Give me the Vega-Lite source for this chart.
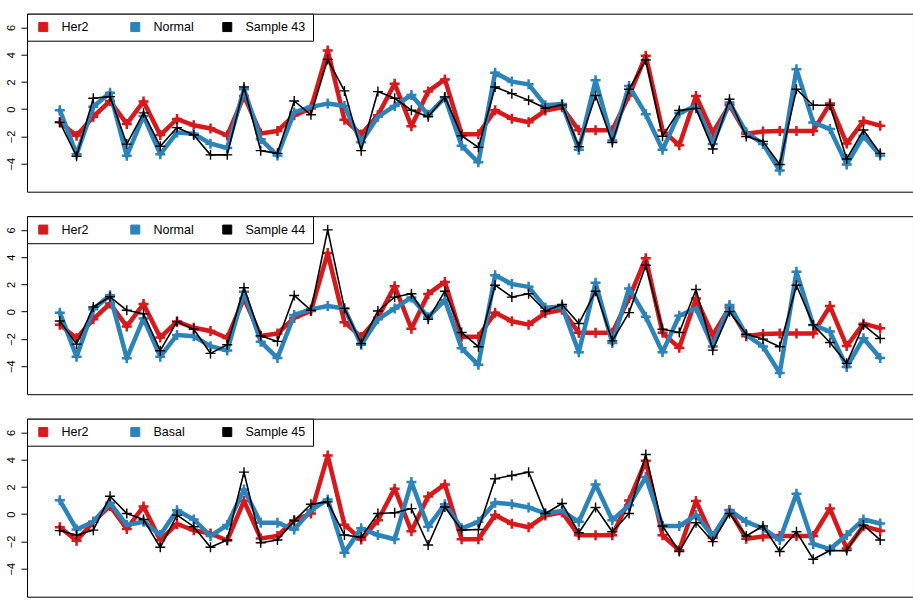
{
"$schema":"https://vega.github.io/schema/vega-lite/v6.json",
"padding":{"left":4,"top":12.7,"right":1,"bottom":12},
"spacing":22.5,
"config":{"view":{"stroke":"black","strokeWidth":1},"font":"Liberation Sans","axis":{"grid":false,"domain":false,"tickSize":6,"tickColor":"black","tickWidth":1,"labelColor":"black","labelFont":"Liberation Sans","labelFontSize":11,"labelAngle":-90,"labelPadding":5,"minExtent":22,"maxExtent":22,"title":null},"legend":{"strokeWidth":1,"title":null,"orient":"top-left","offset":0,"direction":"horizontal","columns":3,"gridAlign":"all","columnPadding":4,"padding":7,"symbolOffset":3,"symbolType":"square","symbolSize":81,"symbolStrokeColor":"black","symbolStrokeWidth":1,"labelFont":"Liberation Sans","labelFontSize":12.5,"labelColor":"black","labelOffset":12,"fillColor":"white","strokeColor":"black","cornerRadius":0}},
"data":{"values":[
{"s":"Her2","i":1,"v":-0.95},{"s":"Her2","i":2,"v":-1.95},{"s":"Her2","i":3,"v":-0.55},{"s":"Her2","i":4,"v":0.6},{"s":"Her2","i":5,"v":-1.08},{"s":"Her2","i":6,"v":0.57},{"s":"Her2","i":7,"v":-1.9},{"s":"Her2","i":8,"v":-0.72},{"s":"Her2","i":9,"v":-1.18},{"s":"Her2","i":10,"v":-1.42},
{"s":"Her2","i":11,"v":-1.93},{"s":"Her2","i":12,"v":0.97},{"s":"Her2","i":13,"v":-1.78},{"s":"Her2","i":14,"v":-1.6},{"s":"Her2","i":15,"v":-0.45},{"s":"Her2","i":16,"v":0.05},{"s":"Her2","i":17,"v":4.3},{"s":"Her2","i":18,"v":-0.77},{"s":"Her2","i":19,"v":-1.85},{"s":"Her2","i":20,"v":-0.45},
{"s":"Her2","i":21,"v":1.87},{"s":"Her2","i":22,"v":-1.25},{"s":"Her2","i":23,"v":1.3},{"s":"Her2","i":24,"v":2.18},{"s":"Her2","i":25,"v":-1.83},{"s":"Her2","i":26,"v":-1.83},{"s":"Her2","i":27,"v":-0.07},{"s":"Her2","i":28,"v":-0.7},{"s":"Her2","i":29,"v":-0.95},{"s":"Her2","i":30,"v":-0.1},
{"s":"Her2","i":31,"v":0.14},{"s":"Her2","i":32,"v":-1.55},{"s":"Her2","i":33,"v":-1.55},{"s":"Her2","i":34,"v":-1.55},{"s":"Her2","i":35,"v":1.0},{"s":"Her2","i":36,"v":3.92},{"s":"Her2","i":37,"v":-1.55},{"s":"Her2","i":38,"v":-2.65},{"s":"Her2","i":39,"v":0.97},{"s":"Her2","i":40,"v":-1.73},
{"s":"Her2","i":41,"v":0.3},{"s":"Her2","i":42,"v":-1.8},{"s":"Her2","i":43,"v":-1.64},{"s":"Her2","i":44,"v":-1.6},{"s":"Her2","i":45,"v":-1.6},{"s":"Her2","i":46,"v":-1.6},{"s":"Her2","i":47,"v":0.41},{"s":"Her2","i":48,"v":-2.52},{"s":"Her2","i":49,"v":-0.88},{"s":"Her2","i":50,"v":-1.21},
{"s":"Normal","i":1,"v":-0.07},{"s":"Normal","i":2,"v":-3.3},{"s":"Normal","i":3,"v":0.18},{"s":"Normal","i":4,"v":1.21},{"s":"Normal","i":5,"v":-3.42},{"s":"Normal","i":6,"v":-0.5},{"s":"Normal","i":7,"v":-3.3},{"s":"Normal","i":8,"v":-1.71},{"s":"Normal","i":9,"v":-1.8},{"s":"Normal","i":10,"v":-2.53},
{"s":"Normal","i":11,"v":-2.85},{"s":"Normal","i":12,"v":1.46},{"s":"Normal","i":13,"v":-2.2},{"s":"Normal","i":14,"v":-3.4},{"s":"Normal","i":15,"v":-0.24},{"s":"Normal","i":16,"v":0.17},{"s":"Normal","i":17,"v":0.41},{"s":"Normal","i":18,"v":0.24},{"s":"Normal","i":19,"v":-2.43},{"s":"Normal","i":20,"v":-0.56},
{"s":"Normal","i":21,"v":0.24},{"s":"Normal","i":22,"v":1.04},{"s":"Normal","i":23,"v":-0.41},{"s":"Normal","i":24,"v":0.85},{"s":"Normal","i":25,"v":-2.68},{"s":"Normal","i":26,"v":-3.9},{"s":"Normal","i":27,"v":2.67},{"s":"Normal","i":28,"v":2.02},{"s":"Normal","i":29,"v":1.82},{"s":"Normal","i":30,"v":0.29},
{"s":"Normal","i":31,"v":0.38},{"s":"Normal","i":32,"v":-2.97},{"s":"Normal","i":33,"v":2.12},{"s":"Normal","i":34,"v":-2.3},{"s":"Normal","i":35,"v":1.7},{"s":"Normal","i":36,"v":-0.37},{"s":"Normal","i":37,"v":-2.97},{"s":"Normal","i":38,"v":-0.3},{"s":"Normal","i":39,"v":0.25},{"s":"Normal","i":40,"v":-2.55},
{"s":"Normal","i":41,"v":0.49},{"s":"Normal","i":42,"v":-1.7},{"s":"Normal","i":43,"v":-2.55},{"s":"Normal","i":44,"v":-4.5},{"s":"Normal","i":45,"v":2.92},{"s":"Normal","i":46,"v":-0.97},{"s":"Normal","i":47,"v":-1.46},{"s":"Normal","i":48,"v":-4.06},{"s":"Normal","i":49,"v":-1.95},{"s":"Normal","i":50,"v":-3.4},
{"s":"Sample 43","i":1,"v":-0.97},{"s":"Sample 43","i":2,"v":-3.45},{"s":"Sample 43","i":3,"v":0.8},{"s":"Sample 43","i":4,"v":0.92},{"s":"Sample 43","i":5,"v":-2.56},{"s":"Sample 43","i":6,"v":-0.27},{"s":"Sample 43","i":7,"v":-2.72},{"s":"Sample 43","i":8,"v":-1.35},{"s":"Sample 43","i":9,"v":-1.89},{"s":"Sample 43","i":10,"v":-3.35},
{"s":"Sample 43","i":11,"v":-3.35},{"s":"Sample 43","i":12,"v":1.63},{"s":"Sample 43","i":13,"v":-3.04},{"s":"Sample 43","i":14,"v":-3.24},{"s":"Sample 43","i":15,"v":0.6},{"s":"Sample 43","i":16,"v":-0.41},{"s":"Sample 43","i":17,"v":3.65},{"s":"Sample 43","i":18,"v":1.34},{"s":"Sample 43","i":19,"v":-3.04},{"s":"Sample 43","i":20,"v":1.29},
{"s":"Sample 43","i":21,"v":0.8},{"s":"Sample 43","i":22,"v":-0.08},{"s":"Sample 43","i":23,"v":-0.56},{"s":"Sample 43","i":24,"v":0.9},{"s":"Sample 43","i":25,"v":-1.95},{"s":"Sample 43","i":26,"v":-2.8},{"s":"Sample 43","i":27,"v":1.63},{"s":"Sample 43","i":28,"v":1.14},{"s":"Sample 43","i":29,"v":0.66},{"s":"Sample 43","i":30,"v":0.07},
{"s":"Sample 43","i":31,"v":0.3},{"s":"Sample 43","i":32,"v":-2.76},{"s":"Sample 43","i":33,"v":1.0},{"s":"Sample 43","i":34,"v":-2.44},{"s":"Sample 43","i":35,"v":1.46},{"s":"Sample 43","i":36,"v":3.6},{"s":"Sample 43","i":37,"v":-1.98},{"s":"Sample 43","i":38,"v":-0.1},{"s":"Sample 43","i":39,"v":0.06},{"s":"Sample 43","i":40,"v":-2.92},
{"s":"Sample 43","i":41,"v":0.73},{"s":"Sample 43","i":42,"v":-2.0},{"s":"Sample 43","i":43,"v":-2.36},{"s":"Sample 43","i":44,"v":-4.06},{"s":"Sample 43","i":45,"v":1.46},{"s":"Sample 43","i":46,"v":0.29},{"s":"Sample 43","i":47,"v":0.29},{"s":"Sample 43","i":48,"v":-3.65},{"s":"Sample 43","i":49,"v":-1.53},{"s":"Sample 43","i":50,"v":-3.24},
{"s":"Sample 44","i":1,"v":-0.68},{"s":"Sample 44","i":2,"v":-2.38},{"s":"Sample 44","i":3,"v":0.34},{"s":"Sample 44","i":4,"v":1.09},{"s":"Sample 44","i":5,"v":0.1},{"s":"Sample 44","i":6,"v":-0.15},{"s":"Sample 44","i":7,"v":-2.86},{"s":"Sample 44","i":8,"v":-0.73},{"s":"Sample 44","i":9,"v":-1.29},{"s":"Sample 44","i":10,"v":-3.06},
{"s":"Sample 44","i":11,"v":-2.43},{"s":"Sample 44","i":12,"v":1.75},{"s":"Sample 44","i":13,"v":-1.77},{"s":"Sample 44","i":14,"v":-2.18},{"s":"Sample 44","i":15,"v":1.19},{"s":"Sample 44","i":16,"v":0.1},{"s":"Sample 44","i":17,"v":6.0},{"s":"Sample 44","i":18,"v":0.24},{"s":"Sample 44","i":19,"v":-2.33},{"s":"Sample 44","i":20,"v":0.05},
{"s":"Sample 44","i":21,"v":1.07},{"s":"Sample 44","i":22,"v":1.31},{"s":"Sample 44","i":23,"v":-0.56},{"s":"Sample 44","i":24,"v":1.5},{"s":"Sample 44","i":25,"v":-1.53},{"s":"Sample 44","i":26,"v":-2.57},{"s":"Sample 44","i":27,"v":1.94},{"s":"Sample 44","i":28,"v":1.07},{"s":"Sample 44","i":29,"v":1.31},{"s":"Sample 44","i":30,"v":0.05},
{"s":"Sample 44","i":31,"v":0.53},{"s":"Sample 44","i":32,"v":-0.87},{"s":"Sample 44","i":33,"v":1.5},{"s":"Sample 44","i":34,"v":-2.14},{"s":"Sample 44","i":35,"v":-0.07},{"s":"Sample 44","i":36,"v":3.4},{"s":"Sample 44","i":37,"v":-1.29},{"s":"Sample 44","i":38,"v":-1.53},{"s":"Sample 44","i":39,"v":1.63},{"s":"Sample 44","i":40,"v":-2.82},
{"s":"Sample 44","i":41,"v":0.0},{"s":"Sample 44","i":42,"v":-1.65},{"s":"Sample 44","i":43,"v":-2.01},{"s":"Sample 44","i":44,"v":-2.57},{"s":"Sample 44","i":45,"v":1.94},{"s":"Sample 44","i":46,"v":-0.97},{"s":"Sample 44","i":47,"v":-2.26},{"s":"Sample 44","i":48,"v":-3.79},{"s":"Sample 44","i":49,"v":-0.97},{"s":"Sample 44","i":50,"v":-1.97},
{"s":"Basal","i":1,"v":1.02},{"s":"Basal","i":2,"v":-1.12},{"s":"Basal","i":3,"v":-0.56},{"s":"Basal","i":4,"v":0.83},{"s":"Basal","i":5,"v":-0.8},{"s":"Basal","i":6,"v":-0.56},{"s":"Basal","i":7,"v":-1.53},{"s":"Basal","i":8,"v":0.29},{"s":"Basal","i":9,"v":-0.39},{"s":"Basal","i":10,"v":-1.6},
{"s":"Basal","i":11,"v":-0.8},{"s":"Basal","i":12,"v":1.8},{"s":"Basal","i":13,"v":-0.63},{"s":"Basal","i":14,"v":-0.63},{"s":"Basal","i":15,"v":-1.12},{"s":"Basal","i":16,"v":0.29},{"s":"Basal","i":17,"v":1.07},{"s":"Basal","i":18,"v":-2.82},{"s":"Basal","i":19,"v":-1.04},{"s":"Basal","i":20,"v":-1.53},
{"s":"Basal","i":21,"v":-1.84},{"s":"Basal","i":22,"v":2.35},{"s":"Basal","i":23,"v":-0.92},{"s":"Basal","i":24,"v":0.73},{"s":"Basal","i":25,"v":-1.04},{"s":"Basal","i":26,"v":-0.56},{"s":"Basal","i":27,"v":0.83},{"s":"Basal","i":28,"v":0.73},{"s":"Basal","i":29,"v":0.49},{"s":"Basal","i":30,"v":0.05},
{"s":"Basal","i":31,"v":0.24},{"s":"Basal","i":32,"v":-0.56},{"s":"Basal","i":33,"v":2.18},{"s":"Basal","i":34,"v":-0.44},{"s":"Basal","i":35,"v":0.66},{"s":"Basal","i":36,"v":2.72},{"s":"Basal","i":37,"v":-0.87},{"s":"Basal","i":38,"v":-0.87},{"s":"Basal","i":39,"v":-0.07},{"s":"Basal","i":40,"v":-1.6},
{"s":"Basal","i":41,"v":0.29},{"s":"Basal","i":42,"v":-0.56},{"s":"Basal","i":43,"v":-1.04},{"s":"Basal","i":44,"v":-1.89},{"s":"Basal","i":45,"v":1.5},{"s":"Basal","i":46,"v":-2.18},{"s":"Basal","i":47,"v":-2.57},{"s":"Basal","i":48,"v":-1.53},{"s":"Basal","i":49,"v":-0.39},{"s":"Basal","i":50,"v":-0.68},
{"s":"Sample 45","i":1,"v":-1.21},{"s":"Sample 45","i":2,"v":-1.53},{"s":"Sample 45","i":3,"v":-1.17},{"s":"Sample 45","i":4,"v":1.31},{"s":"Sample 45","i":5,"v":0.05},{"s":"Sample 45","i":6,"v":-0.39},{"s":"Sample 45","i":7,"v":-2.43},{"s":"Sample 45","i":8,"v":-0.07},{"s":"Sample 45","i":9,"v":-0.92},{"s":"Sample 45","i":10,"v":-2.43},
{"s":"Sample 45","i":11,"v":-1.89},{"s":"Sample 45","i":12,"v":3.08},{"s":"Sample 45","i":13,"v":-2.09},{"s":"Sample 45","i":14,"v":-1.89},{"s":"Sample 45","i":15,"v":-0.49},{"s":"Sample 45","i":16,"v":0.73},{"s":"Sample 45","i":17,"v":0.9},{"s":"Sample 45","i":18,"v":-1.53},{"s":"Sample 45","i":19,"v":-1.7},{"s":"Sample 45","i":20,"v":0.05},
{"s":"Sample 45","i":21,"v":0.1},{"s":"Sample 45","i":22,"v":0.41},{"s":"Sample 45","i":23,"v":-2.26},{"s":"Sample 45","i":24,"v":0.53},{"s":"Sample 45","i":25,"v":-1.17},{"s":"Sample 45","i":26,"v":-1.12},{"s":"Sample 45","i":27,"v":2.6},{"s":"Sample 45","i":28,"v":2.84},{"s":"Sample 45","i":29,"v":3.08},{"s":"Sample 45","i":30,"v":0.05},
{"s":"Sample 45","i":31,"v":0.78},{"s":"Sample 45","i":32,"v":-1.36},{"s":"Sample 45","i":33,"v":0.49},{"s":"Sample 45","i":34,"v":-1.29},{"s":"Sample 45","i":35,"v":0.05},{"s":"Sample 45","i":36,"v":4.37},{"s":"Sample 45","i":37,"v":-0.87},{"s":"Sample 45","i":38,"v":-2.74},{"s":"Sample 45","i":39,"v":-0.63},{"s":"Sample 45","i":40,"v":-2.01},
{"s":"Sample 45","i":41,"v":0.05},{"s":"Sample 45","i":42,"v":-1.6},{"s":"Sample 45","i":43,"v":-0.87},{"s":"Sample 45","i":44,"v":-2.74},{"s":"Sample 45","i":45,"v":-1.29},{"s":"Sample 45","i":46,"v":-3.3},{"s":"Sample 45","i":47,"v":-2.67},{"s":"Sample 45","i":48,"v":-2.67},{"s":"Sample 45","i":49,"v":-0.8},{"s":"Sample 45","i":50,"v":-1.89}
]},
"resolve":{"scale":{"color":"independent"},"legend":{"color":"independent"}},
"vconcat":[
{"width":886,"height":178,
 "encoding":{"x":{"field":"i","type":"quantitative","scale":{"domain":[-0.96,51.96],"nice":false,"zero":false},"axis":null},
  "y":{"field":"v","type":"quantitative","scale":{"domain":[-6.05,7.0],"nice":false,"zero":false},"axis":{"values":[-4,-2,0,2,4,6]}}},
 "layer":[
  {"transform":[{"filter":{"field":"s","oneOf":["Her2","Normal"]}}],
   "mark":{"type":"point","shape":"M-1,-0.25H-0.25V-1H0.25V-0.25H1V0.25H0.25V1H-0.25V0.25H-1Z","filled":true,"size":100,"opacity":1},
   "encoding":{"color":{"field":"s","type":"nominal","scale":{"domain":["Her2","Normal","Sample 43"],"range":["#D7191C","#2B83BA","#000000"]},"legend":{}}}},
  {"transform":[{"filter":{"field":"s","oneOf":["Her2","Normal"]}}],
   "mark":{"type":"line","strokeWidth":4.5,"strokeJoin":"round","strokeCap":"round","opacity":1},
   "encoding":{"color":{"field":"s","type":"nominal","scale":{"domain":["Her2","Normal","Sample 43"],"range":["#D7191C","#2B83BA","#000000"]},"legend":null}}},
  {"transform":[{"filter":{"field":"s","equal":"Sample 43"}}],
   "mark":{"type":"line","strokeWidth":1.6,"strokeJoin":"round","strokeCap":"round","opacity":1},
   "encoding":{"color":{"field":"s","type":"nominal","scale":{"domain":["Her2","Normal","Sample 43"],"range":["#D7191C","#2B83BA","#000000"]},"legend":null}}},
  {"transform":[{"filter":{"field":"s","equal":"Sample 43"}}],
   "mark":{"type":"point","shape":"M-1,-0.14H-0.14V-1H0.14V-0.14H1V0.14H0.14V1H-0.14V0.14H-1Z","filled":true,"size":100,"opacity":1},
   "encoding":{"color":{"field":"s","type":"nominal","scale":{"domain":["Her2","Normal","Sample 43"],"range":["#D7191C","#2B83BA","#000000"]},"legend":{}}}}
 ]},
{"width":886,"height":178,
 "encoding":{"x":{"field":"i","type":"quantitative","scale":{"domain":[-0.96,51.96],"nice":false,"zero":false},"axis":null},
  "y":{"field":"v","type":"quantitative","scale":{"domain":[-6.05,7.0],"nice":false,"zero":false},"axis":{"values":[-4,-2,0,2,4,6]}}},
 "layer":[
  {"transform":[{"filter":{"field":"s","oneOf":["Her2","Normal"]}}],
   "mark":{"type":"point","shape":"M-1,-0.25H-0.25V-1H0.25V-0.25H1V0.25H0.25V1H-0.25V0.25H-1Z","filled":true,"size":100,"opacity":1},
   "encoding":{"color":{"field":"s","type":"nominal","scale":{"domain":["Her2","Normal","Sample 44"],"range":["#D7191C","#2B83BA","#000000"]},"legend":{}}}},
  {"transform":[{"filter":{"field":"s","oneOf":["Her2","Normal"]}}],
   "mark":{"type":"line","strokeWidth":4.5,"strokeJoin":"round","strokeCap":"round","opacity":1},
   "encoding":{"color":{"field":"s","type":"nominal","scale":{"domain":["Her2","Normal","Sample 44"],"range":["#D7191C","#2B83BA","#000000"]},"legend":null}}},
  {"transform":[{"filter":{"field":"s","equal":"Sample 44"}}],
   "mark":{"type":"line","strokeWidth":1.6,"strokeJoin":"round","strokeCap":"round","opacity":1},
   "encoding":{"color":{"field":"s","type":"nominal","scale":{"domain":["Her2","Normal","Sample 44"],"range":["#D7191C","#2B83BA","#000000"]},"legend":null}}},
  {"transform":[{"filter":{"field":"s","equal":"Sample 44"}}],
   "mark":{"type":"point","shape":"M-1,-0.14H-0.14V-1H0.14V-0.14H1V0.14H0.14V1H-0.14V0.14H-1Z","filled":true,"size":100,"opacity":1},
   "encoding":{"color":{"field":"s","type":"nominal","scale":{"domain":["Her2","Normal","Sample 44"],"range":["#D7191C","#2B83BA","#000000"]},"legend":{}}}}
 ]},
{"width":886,"height":178,
 "encoding":{"x":{"field":"i","type":"quantitative","scale":{"domain":[-0.96,51.96],"nice":false,"zero":false},"axis":null},
  "y":{"field":"v","type":"quantitative","scale":{"domain":[-6.05,7.0],"nice":false,"zero":false},"axis":{"values":[-4,-2,0,2,4,6]}}},
 "layer":[
  {"transform":[{"filter":{"field":"s","oneOf":["Her2","Basal"]}}],
   "mark":{"type":"point","shape":"M-1,-0.25H-0.25V-1H0.25V-0.25H1V0.25H0.25V1H-0.25V0.25H-1Z","filled":true,"size":100,"opacity":1},
   "encoding":{"color":{"field":"s","type":"nominal","scale":{"domain":["Her2","Basal","Sample 45"],"range":["#D7191C","#2B83BA","#000000"]},"legend":{}}}},
  {"transform":[{"filter":{"field":"s","oneOf":["Her2","Basal"]}}],
   "mark":{"type":"line","strokeWidth":4.5,"strokeJoin":"round","strokeCap":"round","opacity":1},
   "encoding":{"color":{"field":"s","type":"nominal","scale":{"domain":["Her2","Basal","Sample 45"],"range":["#D7191C","#2B83BA","#000000"]},"legend":null}}},
  {"transform":[{"filter":{"field":"s","equal":"Sample 45"}}],
   "mark":{"type":"line","strokeWidth":1.6,"strokeJoin":"round","strokeCap":"round","opacity":1},
   "encoding":{"color":{"field":"s","type":"nominal","scale":{"domain":["Her2","Basal","Sample 45"],"range":["#D7191C","#2B83BA","#000000"]},"legend":null}}},
  {"transform":[{"filter":{"field":"s","equal":"Sample 45"}}],
   "mark":{"type":"point","shape":"M-1,-0.14H-0.14V-1H0.14V-0.14H1V0.14H0.14V1H-0.14V0.14H-1Z","filled":true,"size":100,"opacity":1},
   "encoding":{"color":{"field":"s","type":"nominal","scale":{"domain":["Her2","Basal","Sample 45"],"range":["#D7191C","#2B83BA","#000000"]},"legend":{}}}}
 ]}
]
}
